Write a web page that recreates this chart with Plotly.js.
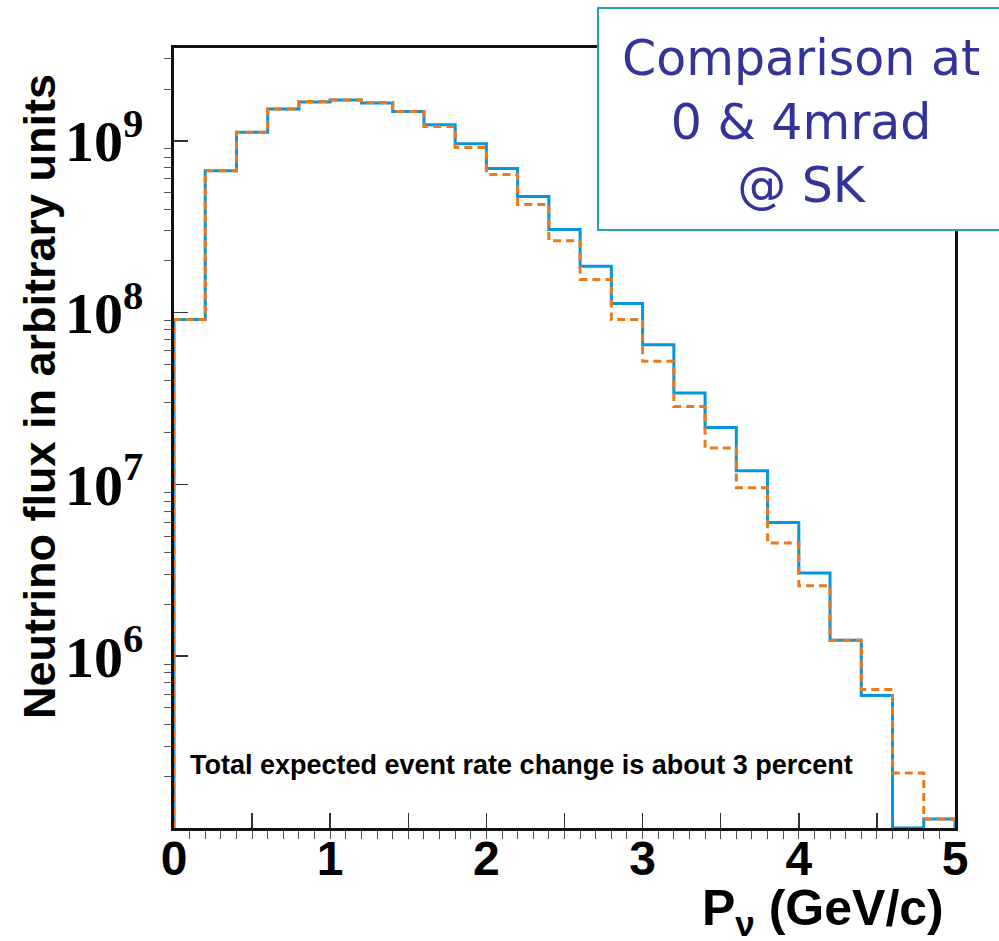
<!DOCTYPE html>
<html>
<head>
<meta charset="utf-8">
<script src="https://cdn.plot.ly/plotly-3.0.1.min.js"></script>
<style>html,body{margin:0;padding:0;background:#fff;}</style>
</head>
<body>
<div id="chart" style="width:999px;height:941px;"></div>
<script>
// Bin edges (GeV/c), 0.2 GeV wide bins
const binEdges = [0,0.2,0.4,0.6,0.8,1.0,1.2,1.4,1.6,1.8,2.0,2.2,2.4,2.6,2.8,3.0,3.2,3.4,3.6,3.8,4.0,4.2,4.4,4.6,4.8,5.0];
// Flux at 0 mrad (solid blue)
const flux0mrad = [9.1e7,6.7e8,1.12e9,1.53e9,1.68e9,1.73e9,1.66e9,1.48e9,1.24e9,9.6e8,6.9e8,4.74e8,3.04e8,1.86e8,1.13e8,6.5e7,3.4e7,2.14e7,1.2e7,6.0e6,3.05e6,1.24e6,5.9e5,0,1.13e5];
// Flux at 4 mrad (dashed orange)
const flux4mrad = [9.1e7,6.7e8,1.12e9,1.53e9,1.69e9,1.73e9,1.67e9,1.48e9,1.21e9,9.15e8,6.37e8,4.26e8,2.62e8,1.56e8,9.1e7,5.2e7,2.84e7,1.63e7,9.55e6,4.56e6,2.57e6,1.24e6,6.4e5,2.09e5,1.13e5];
const yTickVals = [1e6,1e7,1e8,1e9];
const yTickText = ['10<sup>6</sup>','10<sup>7</sup>','10<sup>8</sup>','10<sup>9</sup>'];
const xTickVals = [0,1,2,3,4,5];
const xTickText = ['0','1','2','3','4','5'];
const xHalfTicks = [0.5,1.5,2.5,3.5,4.5];

const yFloor = 1e5; // axis minimum; empty bins are drawn at the floor like a ROOT histogram

function stepTrace(values, color, dash) {
  const xs = [binEdges[0]];
  const ys = [yFloor];
  for (let i = 0; i < values.length; i++) {
    xs.push(binEdges[i]);
    ys.push(values[i] > 0 ? values[i] : yFloor);
  }
  xs.push(binEdges[binEdges.length-1]); ys.push(ys[ys.length-1]);
  xs.push(binEdges[binEdges.length-1]); ys.push(yFloor);
  return {x: xs, y: ys, type: 'scatter', mode: 'lines',
    line: {shape: 'hv', color: color, width: 3, dash: dash},
    hoverinfo: 'skip', showlegend: false};
}

const minorY = [];
for (let e = 5; e <= 9; e++) for (let m = 2; m <= 9; m++) { const v = m*Math.pow(10,e); if (v < 3.4e9) minorY.push(v); }

const sans = '"Liberation Sans", Arial, sans-serif';

const data = [
  stepTrace(flux0mrad, '#0596dc', 'solid'),
  stepTrace(flux4mrad, '#ea7a1e', '8px,5px'),
  {x: [], y: [], xaxis: 'x2', yaxis: 'y', type: 'scatter', mode: 'lines', showlegend: false, hoverinfo: 'skip'}
];

const layout = {
  width: 999, height: 941,
  margin: {l:174, r:44, t:48, b:113},
  paper_bgcolor: '#fff', plot_bgcolor: '#fff',
  showlegend: false,
  xaxis: {
    range: [0,5], showgrid: false, zeroline: false,
    showline: true, mirror: true, linewidth: 3, linecolor: '#111',
    ticks: 'inside', tickmode: 'array', tickvals: xTickVals, ticktext: xTickText,
    ticklen: 15, tickwidth: 1.5, tickcolor: '#333',
    minor: {tickmode: 'linear', tick0: 0, dtick: 0.1, ticklen: 8, tickwidth: 1, tickcolor: '#555', showgrid: false},
    tickfont: {family: sans, size: 48, color: '#000', weight: 'bold'},
    ticklabelstandoff: -14,
    layer: 'below traces', fixedrange: true
  },
  xaxis2: {
    overlaying: 'x', matches: 'x', anchor: 'y', side: 'bottom',
    range: [0,5], showgrid: false, zeroline: false, showline: false,
    ticks: 'inside', tickmode: 'array', tickvals: xHalfTicks,
    ticklen: 15, tickwidth: 1.5, tickcolor: '#333', showticklabels: false,
    layer: 'below traces', fixedrange: true
  },
  yaxis: {
    type: 'log', range: [5, 9.54], showgrid: false, zeroline: false,
    showline: true, mirror: true, linewidth: 3, linecolor: '#111',
    ticks: 'inside', tickmode: 'array', tickvals: yTickVals, ticktext: yTickText,
    ticklen: 14, tickwidth: 1.5, tickcolor: '#333',
    minor: {tickmode: 'array', tickvals: minorY, ticklen: 7, tickwidth: 1, tickcolor: '#555', showgrid: false},
    tickfont: {family: '"Liberation Serif", "Times New Roman", serif', size: 58, color: '#000', weight: 'bold'},
    ticklabelstandoff: 16,
    layer: 'below traces', fixedrange: true
  },
  shapes: [{
    type: 'rect', xref: 'paper', yref: 'paper',
    x0: (598-174)/781, x1: (1010-174)/781, y0: (828-230)/780, y1: (828-8)/780,
    line: {color: '#26a4a4', width: 2}, fillcolor: '#fff', layer: 'above'
  }],
  annotations: [
    {text: 'Neutrino flux in arbitrary units', xref: 'paper', yref: 'paper',
     x: (39-174)/781, y: (828-397)/780, xanchor: 'center', yanchor: 'middle', textangle: -90,
     showarrow: false, font: {family: sans, size: 45, color: '#000', weight: 'bold'}},
    {text: 'P<sub>ν</sub> (GeV/c)', xref: 'paper', yref: 'paper',
     x: (946-174)/781, y: (828-911)/780, xanchor: 'right', yanchor: 'middle',
     showarrow: false, font: {family: sans, size: 50, color: '#000', weight: 'bold'}},
    {text: 'Total expected event rate change is about 3 percent', xref: 'paper', yref: 'paper',
     x: (188-174)/781, y: (828-765)/780, xanchor: 'left', yanchor: 'middle',
     showarrow: false, font: {family: sans, size: 27, color: '#000', weight: 'bold'}},
    {text: 'Comparison at<br>0 &amp; 4mrad<br>@ SK', xref: 'paper', yref: 'paper',
     x: (801-174)/781, y: (828-122)/780, xanchor: 'center', yanchor: 'middle',
     showarrow: false, align: 'center', font: {family: '"DejaVu Sans", Verdana, sans-serif', size: 49, color: '#333399'}}
  ]
};

Plotly.newPlot('chart', data, layout, {staticPlot: true, displayModeBar: false});
</script>
</body>
</html>
